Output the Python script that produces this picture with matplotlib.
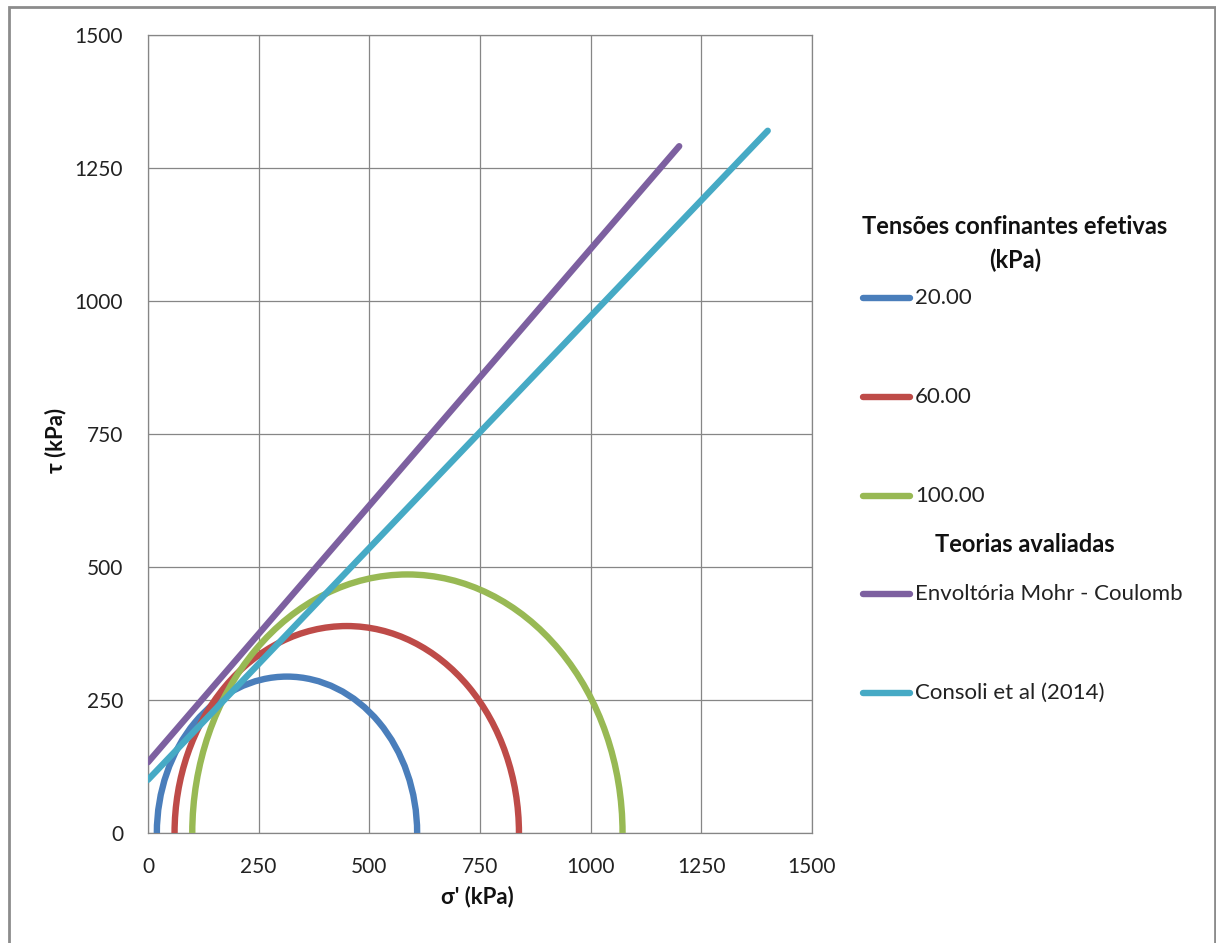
import matplotlib
matplotlib.use("Agg")
import matplotlib.pyplot as plt
from matplotlib.patches import Arc, Rectangle
from matplotlib.lines import Line2D

# ---- data ----
confining = ["20.00", "60.00", "100.00"]
sigma3 = [20, 60, 100]          # kPa, left end of Mohr circles
sigma1 = [608, 838, 1072]       # kPa, right end of Mohr circles
circle_colors = ["#4A7EBB", "#BE4B48", "#98B954"]

theories = ["Envoltória Mohr - Coulomb", "Consoli et al (2014)"]
mc_x = [0, 1200]
mc_y = [133, 1291]
consoli_x = [0, 1400]
consoli_y = [100, 1320]
theory_colors = ["#7D60A0", "#46AAC5"]

ticks = [0, 250, 500, 750, 1000, 1250, 1500]

# ---- figure ----
W, H = 1216, 943
fig = plt.figure(figsize=(W / 100, H / 100), dpi=100)
plt.rcParams['font.family'] = ['Lato', 'DejaVu Sans']

def fx(px):
    return px / W

def fy(py):
    return 1 - py / H

# outer chart border
fig.add_artist(Rectangle((fx(9), fy(960)), fx(1215) - fx(9), fy(7) - fy(960),
                         transform=fig.transFigure, fill=False,
                         edgecolor="#8C8C8C", linewidth=2.0))

ax = fig.add_axes([fx(148), fy(833), fx(812) - fx(148), fy(35) - fy(833)])
lw = 4.6
for s3, s1, c in zip(sigma3, sigma1, circle_colors):
    d = s1 - s3
    ax.add_patch(Arc(((s3 + s1) / 2, 0), d, d, theta1=0, theta2=180,
                     color=c, linewidth=lw, zorder=3))
ax.plot(mc_x, mc_y, color=theory_colors[0], linewidth=lw,
        solid_capstyle='round', zorder=4)
ax.plot(consoli_x, consoli_y, color=theory_colors[1], linewidth=lw,
        solid_capstyle='round', zorder=5)

ax.set_xlim(0, 1500)
ax.set_ylim(0, 1500)
ax.set_xticks(ticks)
ax.set_yticks(ticks)
ax.tick_params(length=0, labelsize=15, colors="#222222")
ax.tick_params(axis='y', pad=18)
ax.tick_params(axis='x', pad=17)
ax.grid(True, color="#868686", linewidth=0.9)
ax.set_axisbelow(True)
for sp in ax.spines.values():
    sp.set_color("#868686")
    sp.set_linewidth(0.9)

fig.text(fx(477), fy(897), "σ' (kPa)", ha="center", va="center",
         fontsize=16, fontweight="bold", color="#111111")
fig.text(fx(56), fy(440), "τ (kPa)", ha="center", va="center", rotation=90,
         fontsize=16, fontweight="bold", color="#111111")

# ---- legend ----
fs = 16
fst = 17
fig.text(fx(1015), fy(226), "Tensões confinantes efetivas", ha="center",
         va="center", fontsize=fst, fontweight="bold", color="#111111")
fig.text(fx(1015), fy(260), "(kPa)", ha="center", va="center",
         fontsize=fst, fontweight="bold", color="#111111")
fig.text(fx(1025), fy(544), "Teorias avaliadas", ha="center", va="center",
         fontsize=fst, fontweight="bold", color="#111111")

entries = list(zip(confining, circle_colors, [298, 397, 496])) + \
          list(zip(theories, theory_colors, [594, 693]))
for label, c, py in entries:
    fig.add_artist(Line2D([fx(863), fx(910)], [fy(py), fy(py)],
                          transform=fig.transFigure, color=c, linewidth=lw,
                          solid_capstyle='round'))
    fig.text(fx(915), fy(py), label, ha="left", va="center",
             fontsize=fs, color="#222222")

fig.savefig("out.png", dpi=100, facecolor="white")
